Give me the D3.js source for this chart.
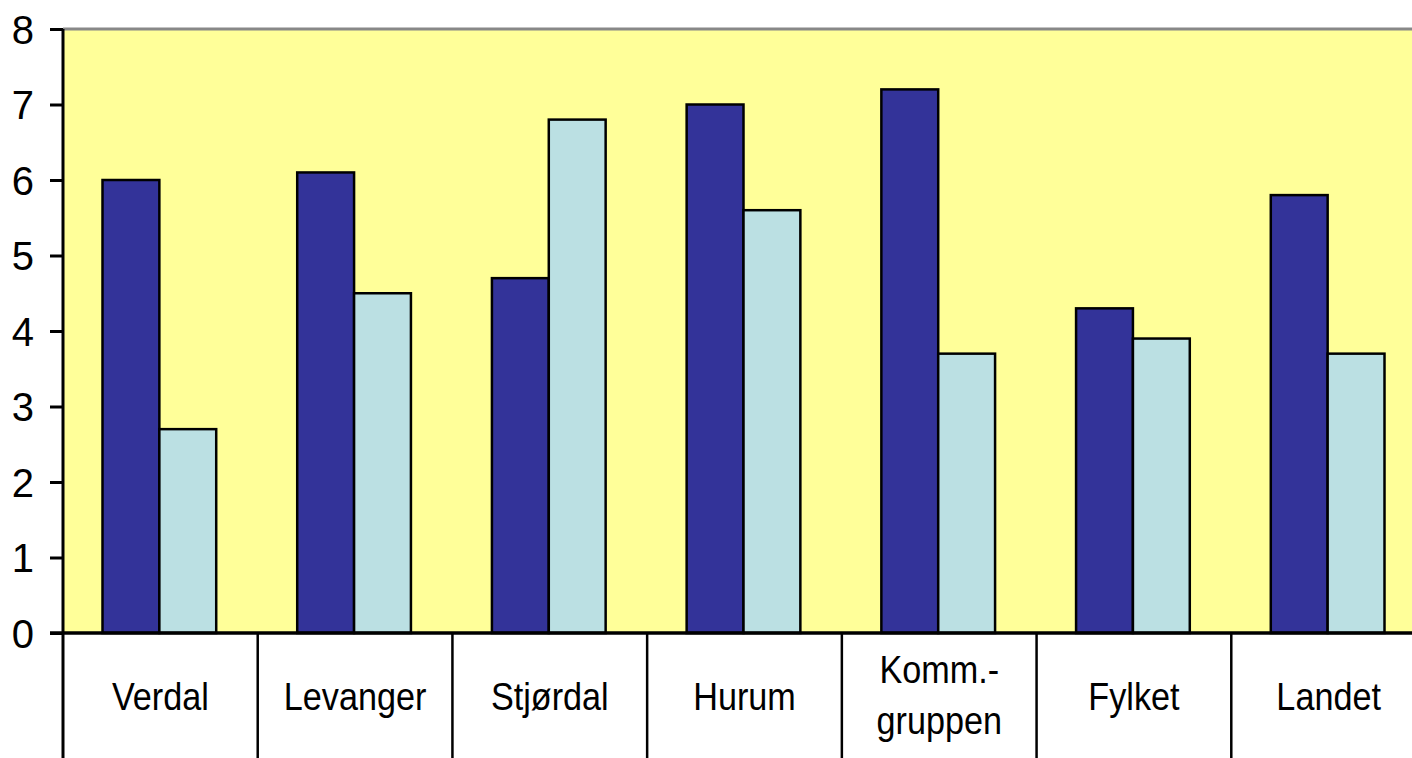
<html lang="en">
<head>
    <meta charset="UTF-8">
    <title>Chart</title>
    <style>
        body { margin: 0; background: #fff; }
        text { font-family: "Liberation Sans", Arial, sans-serif; fill: #000; }
    </style>
</head>
<body>
    <script src="https://d3js.org/d3.v7.min.js"></script>
    <div id="my_dataviz"></div>
    <script>
        // Data
        var categories = ["Verdal", "Levanger", "Stjørdal", "Hurum", "Komm.-\ngruppen", "Fylket", "Landet"]
        var seriesNames = ["A", "B"]
        var seriesA = [6.0, 6.1, 4.7, 7.0, 7.2, 4.3, 5.8]
        var seriesB = [2.7, 4.5, 6.8, 5.6, 3.7, 3.9, 3.7]
        var yTicks = [0, 1, 2, 3, 4, 5, 6, 7, 8]

        var width = 1412
        var height = 758

        var svg = d3.select("#my_dataviz")
            .append("svg")
            .attr("width", width)
            .attr("height", height)

        var plotLeft = 63, plotRight = 1426, plotTop = 29, zero = 633

        var x0 = d3.scaleBand()
            .domain(categories)
            .range([plotLeft, plotRight])
            .padding(0)

        var gap = 81
        var x1 = d3.scaleBand()
            .domain(seriesNames)
            .range([gap / 2 - 1, x0.bandwidth() - gap / 2 - 1])
            .padding(0)

        var y = d3.scaleLinear()
            .domain([0, 8])
            .range([zero, plotTop])

        var color = d3.scaleOrdinal()
            .domain(seriesNames)
            .range(["#333399", "#BBE0E3"])

        // plot background
        svg.append("rect")
            .attr("x", plotLeft)
            .attr("y", plotTop)
            .attr("width", plotRight - plotLeft)
            .attr("height", zero - plotTop)
            .attr("fill", "#FFFF99")

        // top border
        svg.append("line")
            .attr("x1", plotLeft).attr("x2", width)
            .attr("y1", plotTop).attr("y2", plotTop)
            .attr("stroke", "#888888")
            .attr("stroke-width", 3)

        // bars
        var rows = categories.map(function (c, i) {
            return { cat: c, values: [{ s: "A", v: seriesA[i] }, { s: "B", v: seriesB[i] }] }
        })

        svg.append("g")
            .selectAll("g")
            .data(rows)
            .enter()
            .append("g")
            .attr("transform", function (d) { return "translate(" + x0(d.cat) + ",0)" })
            .selectAll("rect")
            .data(function (d) { return d.values })
            .enter()
            .append("rect")
            .attr("x", function (d) { return x1(d.s) })
            .attr("y", function (d) { return y(d.v) })
            .attr("width", x1.bandwidth())
            .attr("height", function (d) { return zero - y(d.v) })
            .attr("fill", function (d) { return color(d.s) })
            .attr("stroke", "#000")
            .attr("stroke-width", 2.5)

        // y axis
        var yAxis = svg.append("g")
            .attr("transform", "translate(" + plotLeft + ",0)")
            .call(d3.axisLeft(y).tickValues(yTicks).tickSize(13).tickPadding(16).tickFormat(d3.format("d")))
        yAxis.select(".domain").attr("stroke", "#000").attr("stroke-width", 3)
            .attr("d", "M0," + plotTop + "V" + height)
        yAxis.selectAll(".tick line").attr("stroke", "#000").attr("stroke-width", 3)
        yAxis.selectAll(".tick text")
            .style("font-size", "40px")
            .style("font-family", "'Liberation Sans', Arial, sans-serif")
            .attr("fill", "#000")
            .attr("dy", "0.36em")

        // x axis baseline
        svg.append("line")
            .attr("x1", plotLeft - 13).attr("x2", width)
            .attr("y1", zero).attr("y2", zero)
            .attr("stroke", "#000")
            .attr("stroke-width", 3.5)

        // category dividers
        svg.append("g")
            .selectAll("line")
            .data(categories.slice(1))
            .enter()
            .append("line")
            .attr("x1", function (d) { return x0(d) })
            .attr("x2", function (d) { return x0(d) })
            .attr("y1", zero)
            .attr("y2", height)
            .attr("stroke", "#000")
            .attr("stroke-width", 2.5)

        // category labels
        var labels = svg.append("g")
            .selectAll("text")
            .data(categories)
            .enter()
            .append("text")
            .attr("transform", function (d) {
                var cx = x0(d) + x0.bandwidth() / 2
                return "translate(" + cx + ",0) scale(0.9,1)"
            })
            .attr("text-anchor", "middle")
            .style("font-size", "38px")

        labels.each(function (d) {
            var lines = d.split("\n")
            var t = d3.select(this)
            var base = lines.length > 1 ? 683 : 710
            lines.forEach(function (l, i) {
                t.append("tspan")
                    .attr("x", 0)
                    .attr("y", base + i * 51)
                    .text(l)
            })
        })
    </script>
</body>
</html>
